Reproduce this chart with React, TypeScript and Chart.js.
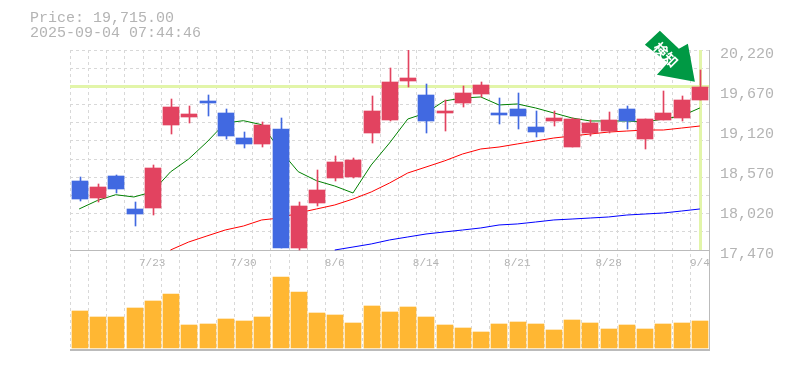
import React, { useEffect, useRef } from "react";
import { Chart, registerables } from "chart.js";

Chart.register(...registerables);

const dates = ["7/16","7/17","7/18","7/22","7/23","7/24","7/25","7/28","7/29","7/30","7/31","8/1","8/4","8/5","8/6","8/7","8/8","8/12","8/13","8/14","8/15","8/18","8/19","8/20","8/21","8/22","8/25","8/26","8/27","8/28","8/29","9/1","9/2","9/3","9/4"];
const tickDates = ["7/23","7/30","8/6","8/14","8/21","8/28","9/4"];
const priceTicks = [20220,19670,19120,18570,18020,17470];

const opens = [18419,18185,18488,18034,18048,19189,19299,19519,19354,19010,18928,19134,17502,18116,18460,18474,19079,19258,19794,19601,19354,19491,19615,19340,19409,19161,19244,18886,19079,19106,19409,18996,19258,19285,19533];
const closes = [18171,18336,18309,17965,18598,19436,19340,19491,19038,18928,19189,17502,18075,18295,18680,18708,19381,19780,19835,19244,19381,19629,19739,19326,19313,19093,19285,19271,19216,19258,19244,19271,19354,19533,19715];
const highs = [18474,18378,18501,18130,18639,19546,19450,19601,19409,19093,19230,19285,18130,18570,18763,18735,19588,19973,20220,19753,19533,19725,19780,19560,19629,19381,19381,19285,19258,19368,19450,19271,19656,19588,19945];
const lows = [18144,18130,18254,17800,17951,19065,19216,19313,18996,18873,18886,17502,17470,18075,18419,18460,18941,19244,19711,19079,19106,19436,19574,19203,19134,19024,19175,18886,19038,19079,19134,18859,19258,19244,19533];

const maShort = [18034,18151,18230,18199,18268,18543,18721,18955,19216,19248,19193,18845,18547,18423,18350,18254,18639,18941,19271,19354,19519,19560,19574,19464,19478,19423,19354,19285,19244,19244,19244,19230,19271,19313,19423];
const maMid = [null,null,null,null,null,17470,17580,17663,17745,17800,17883,17910,17979,18034,18089,18171,18268,18391,18529,18611,18694,18790,18859,18886,18928,18969,19010,19038,19065,19092,19106,19120,19120,19147,19175];
const maLong = [null,null,null,null,null,null,null,null,null,null,null,null,null,null,17470,17511,17553,17608,17649,17690,17718,17745,17773,17814,17828,17855,17883,17896,17910,17924,17951,17965,17979,18006,18034];

const volumes = [37000,31000,31000,40000,47000,54000,23000,24000,29000,27000,31000,71000,56000,35000,33000,25000,42000,36000,41000,31000,23000,20000,16000,24000,26000,24000,18000,28000,25000,19000,23000,19000,24000,25000,27000];

const lastPrice = "19,715.00";
const stamp = "2025-09-04 07:44:46";
const badge = "検知";

const RED = "#E24360";
const BLUE = "#4169E1";
const GRAY = "#B4B4B4";
const LINE_GRAY = "#BBBBBB";
const GRID = "#D8D8D8";
const HILITE = "#E2F5A9";
const FONT = '"Liberation Mono", monospace';

const PRICE_MIN = 17470;
const PRICE_MAX = 20220;
const PX_PER_PRICE = (PRICE_MAX - PRICE_MIN) / 200;
const candleColors = opens.map((o, i) => (closes[i] >= o ? RED : BLUE));

const overlay = {
  id: "overlay",
  afterDatasetsUpdate(chart: any) {
    // snap bars to whole pixels so their edges stay crisp
    chart.data.datasets.forEach((ds: any, i: number) => {
      if (ds.type === "line") return;
      const wick = ds.barThickness === 1;
      chart.getDatasetMeta(i).data.forEach((el: any, n: number) => {
        el.x = Math.round(el.x + 0.87 - n * 0.025) + (wick ? 0.5 : 0);
        el.y = Math.round(el.y);
        el.base = Math.round(el.base);
      });
    });
  },
  beforeDatasetsDraw(chart: any) {
    const { ctx, chartArea: a, scales } = chart;
    const xp = scales.x.getPixelForValue(opens.length - 1);
    const yp = scales.y.getPixelForValue(closes[closes.length - 1]);
    const pb = scales.y.getPixelForValue(PRICE_MIN);
    ctx.save();
    ctx.fillStyle = HILITE;
    ctx.fillRect(a.left, Math.round(yp) - 2, a.right - a.left, 3);
    ctx.fillRect(Math.round(xp) - 1, a.top, 3, pb - a.top);
    ctx.fillStyle = LINE_GRAY;
    ctx.fillRect(a.left, a.bottom - 1, a.right - a.left, 2);
    ctx.restore();
  },
  afterDraw(chart: any) {
    const { ctx, scales } = chart;
    const xp = scales.x.getPixelForValue(opens.length - 1);
    const yp = scales.y.getPixelForValue(closes[closes.length - 1]);
    ctx.save();
    ctx.fillStyle = GRAY;
    ctx.font = `15px ${FONT}`;
    ctx.textBaseline = "middle";
    ctx.fillText(`Price: ${lastPrice}`, 30, 18);
    ctx.fillText(stamp, 30, 33);

    ctx.translate(xp - 5, yp - 5);
    ctx.fillStyle = "#009944";
    ctx.beginPath();
    const arrow = [[0, 0], [-7, -38], [-16, -33], [-35, -51], [-50, -37], [-27, -19], [-38, -7]];
    arrow.forEach(([px, py], i) => (i ? ctx.lineTo(px, py) : ctx.moveTo(px, py)));
    ctx.closePath();
    ctx.fill();
    ctx.translate(-29, -27);
    ctx.rotate(Math.PI / 4);
    ctx.fillStyle = "#FFFFFF";
    ctx.font = 'bold 14px "Noto Sans CJK JP"';
    ctx.textAlign = "center";
    ctx.fillText(badge, 0, 0);
    ctx.restore();
  },
};

export default function App() {
  const ref = useRef<HTMLCanvasElement>(null);
  useEffect(() => {
    const chart = new Chart(ref.current as HTMLCanvasElement, {
      type: "bar",
      plugins: [overlay],
      data: {
        labels: dates,
        datasets: [
          { type: "line", data: maLong, yAxisID: "y", borderColor: "#0000FF", borderWidth: 1, pointRadius: 0, order: 5 },
          { type: "line", data: maMid, yAxisID: "y", borderColor: "#FF0000", borderWidth: 1, pointRadius: 0, order: 4 },
          { type: "line", data: maShort, yAxisID: "y", borderColor: "#008000", borderWidth: 1, pointRadius: 0, order: 3 },
          { data: opens.map((_, i) => [lows[i], highs[i]]), yAxisID: "y", backgroundColor: candleColors, barThickness: 1, grouped: false, order: 2 },
          { data: opens.map((o, i) => [o, closes[i]]), yAxisID: "y", backgroundColor: candleColors, barThickness: 16, minBarLength: 2, grouped: false, order: 1 },
          { data: volumes, yAxisID: "yv", backgroundColor: "#FFB733", barThickness: 16, grouped: false, order: 1 },
        ] as any,
      },
      options: {
        animation: false,
        responsive: false,
        events: [],
        layout: { padding: { left: 70, top: 50, bottom: 20, right: 0 } },
        plugins: { legend: { display: false }, tooltip: { enabled: false }, title: { display: false } },
        scales: {
          x: {
            type: "category",
            offset: true,
            position: { y: PRICE_MIN } as any,
            grid: { offset: true, color: GRID, drawTicks: false },
            border: { color: LINE_GRAY, dash: [3, 3], display: true },
            ticks: {
              autoSkip: false,
              maxRotation: 0,
              padding: 6,
              color: GRAY,
              font: { family: FONT, size: 11 },
              callback(this: any, v: any) {
                const s = this.getLabelForValue(v);
                return tickDates.includes(s) ? s : "";
              },
            },
          },
          y: {
            position: "left",
            min: PRICE_MIN - 100 * PX_PER_PRICE,
            max: PRICE_MAX,
            afterBuildTicks(s: any) {
              const t = [];
              for (let i = 0; i <= 11; i++) t.push({ value: PRICE_MIN + (i * (PRICE_MAX - PRICE_MIN)) / 11 });
              s.ticks = t;
            },
            afterFit(s: any) { s.width = 0; },
            ticks: { display: false },
            grid: { color: GRID, drawTicks: false },
            border: { display: false, dash: [3, 3] },
          },
          yv: { display: false, position: "left", min: -2000, max: 298000 },
          yl: {
            position: "right",
            min: PRICE_MIN + 4 * PX_PER_PRICE - 100 * PX_PER_PRICE,
            max: PRICE_MAX + 4 * PX_PER_PRICE,
            afterBuildTicks(s: any) { s.ticks = priceTicks.map((value) => ({ value })); },
            afterFit(s: any) { s.width = 76; },
            grid: { display: false, drawTicks: false },
            border: { color: LINE_GRAY, display: true },
            ticks: {
              padding: 11,
              color: GRAY,
              font: { family: FONT, size: 15 },
              callback: (v: any) => Number(v).toLocaleString("en-US"),
            },
          },
        },
      } as any,
    });
    return () => chart.destroy();
  }, []);
  return <canvas ref={ref} width={785} height={370} style={{ position: "absolute", left: 0, top: 0, display: "block" }} />;
}
